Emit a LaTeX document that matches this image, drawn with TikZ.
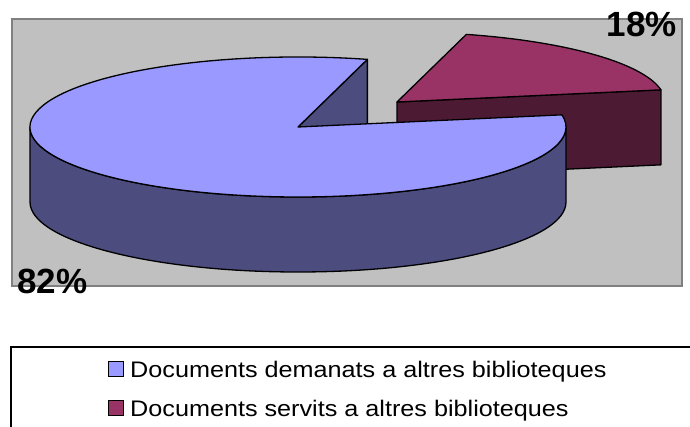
\documentclass[tikz,border=0pt]{standalone}
\usepackage{fontspec}
\setmainfont{Liberation Sans}
\usetikzlibrary{calc}
\definecolor{plotgray}{HTML}{C0C0C0}
\definecolor{plotborder}{HTML}{808080}
\definecolor{bluetop}{HTML}{9999FF}
\definecolor{blueside}{HTML}{4C4C7F}
\definecolor{redtop}{HTML}{993366}
\definecolor{redside}{HTML}{4D1A33}
\tikzset{
  face/.style={draw=black, line width=1.3pt, line join=round},
  pct/.style={inner sep=0pt, font=\fontsize{35}{40}\selectfont\bfseries},
  legtext/.style={inner sep=0pt, anchor=base west, font=\fontsize{22.5}{26}\selectfont},
  legsq/.style={draw=black, line width=1.4pt}
}
\begin{document}
\begin{tikzpicture}[x=1pt,y=1pt]
\useasboundingbox (0,0) rectangle (690,426);
\fill[white] (0,0) rectangle (690,426);
% plot area
\draw[fill=plotgray, draw=plotborder, line width=1.5pt] (12,140) rectangle (682,407);
% centres
\coordinate (C) at (298,299);
\coordinate (R) at (397,324);
% red slice (exploded)
\coordinate (R10) at ($(R)+(10:268pt and 70pt)$);
\coordinate (R75) at ($(R)+(75:268pt and 70pt)$);
\draw[face, fill=redside] (R) -- (R10) -- ++(0,-75) -- ($(R)+(0,-75)$) -- cycle;
\draw[face, fill=redtop] (R) -- (R10) arc[start angle=10, end angle=75, x radius=268pt, y radius=70pt] -- cycle;
% blue slice
\coordinate (B75) at ($(C)+(75:268pt and 70pt)$);
\coordinate (B10) at ($(C)+(10:268pt and 70pt)$);
\coordinate (B180) at ($(C)+(180:268pt and 70pt)$);
\draw[face, fill=blueside] (C) -- (B75) -- ++(0,-75) -- ($(C)+(0,-75)$) -- cycle;
\draw[face, fill=blueside] (B180) arc[start angle=180, end angle=360, x radius=268pt, y radius=70pt] -- ++(0,-75) arc[start angle=360, end angle=180, x radius=268pt, y radius=70pt] -- cycle;
\draw[face, fill=bluetop] (C) -- (B75) arc[start angle=75, end angle=370, x radius=268pt, y radius=70pt] -- cycle;
% percentage labels
\node[pct, anchor=base east] (p18) at (677,389) {18\%};
\node[pct, anchor=base west] (p82) at (17,133) {82\%};
% legend
\draw[line width=2pt] (11,-2) -- (11,79) -- (692,79);
\draw[legsq, fill=bluetop] (108.5,49.5) rectangle (123.5,64.5);
\draw[legsq, fill=redtop] (108.5,10.5) rectangle (123.5,25.5);
\node[legtext] (l1) at (130,49) {\scalebox{1.12}[1]{Documents demanats a altres biblioteques}};
\node[legtext] (l2) at (130,9.5) {\scalebox{1.12}[1]{Documents servits a altres biblioteques}};
\end{tikzpicture}
\end{document}
